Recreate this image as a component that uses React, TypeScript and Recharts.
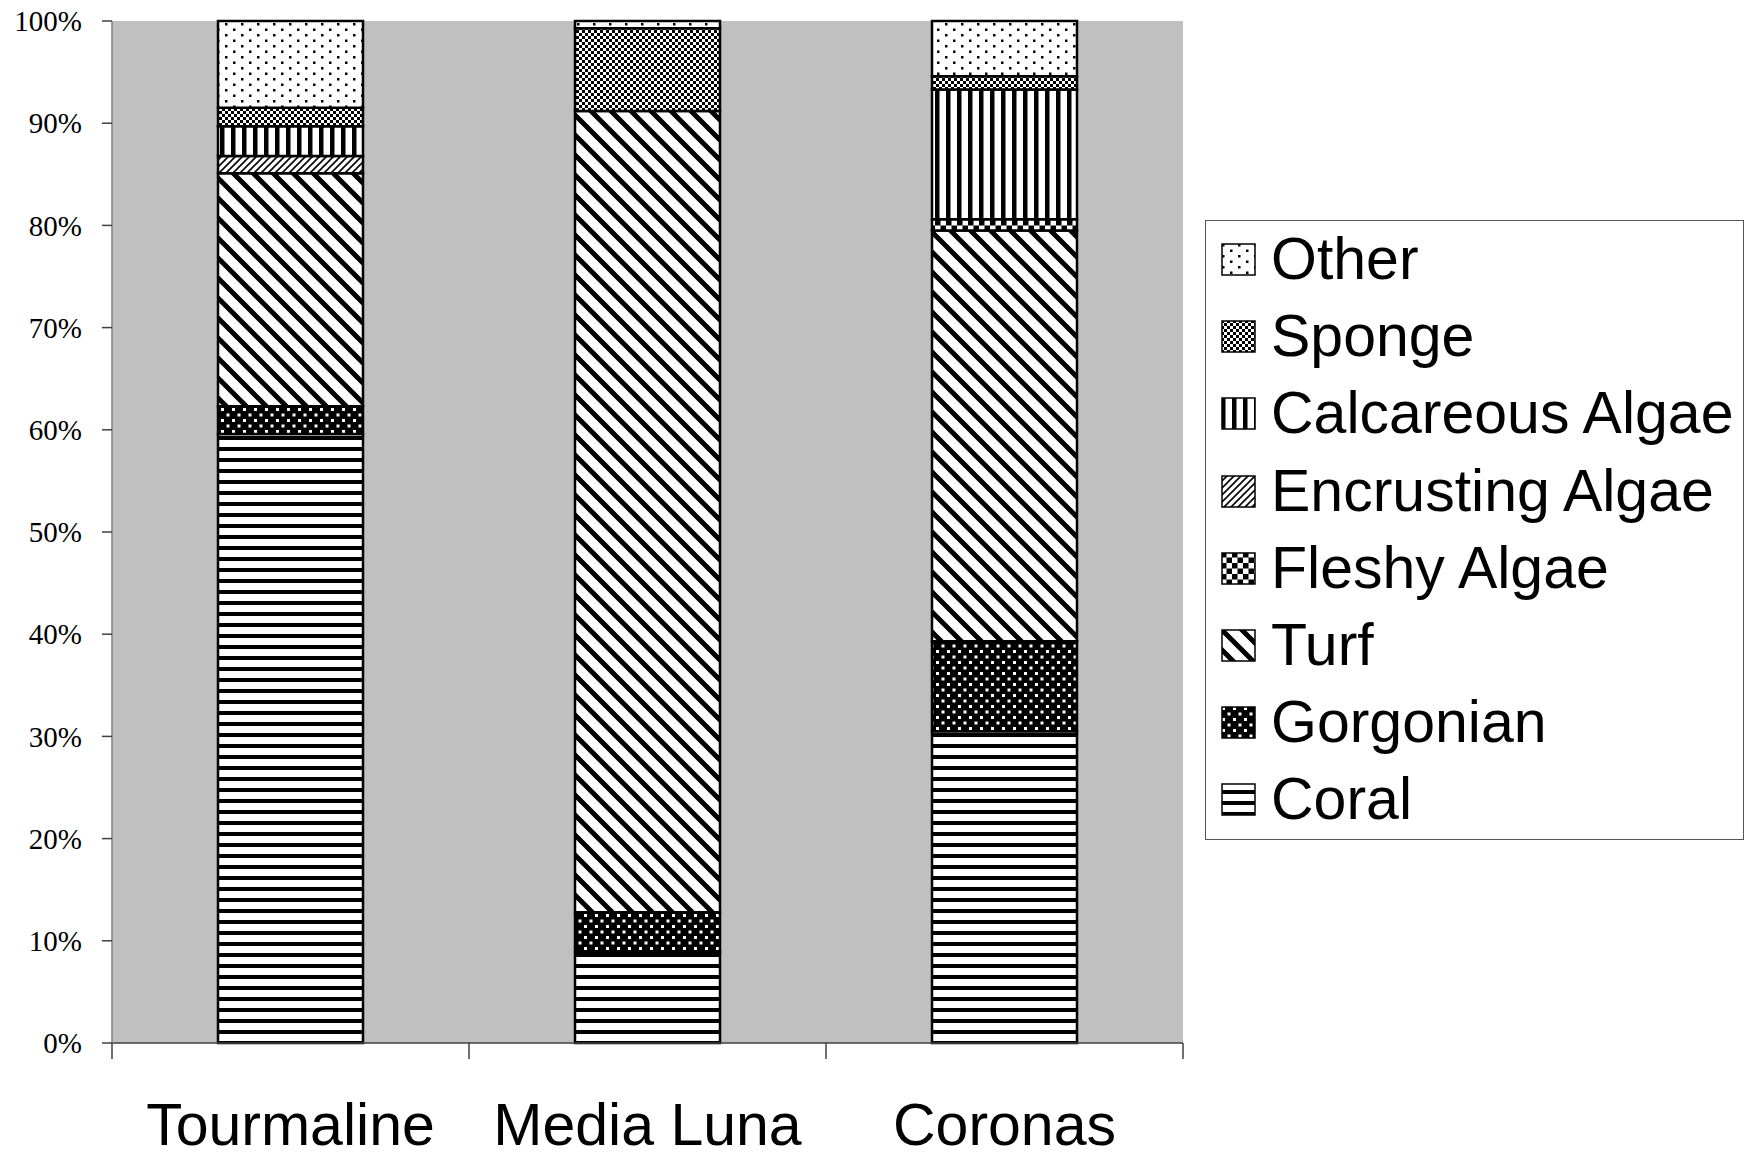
import { Bar, BarChart, CartesianGrid, Legend, XAxis, YAxis } from 'recharts'

const SITES = ['Tourmaline', 'Media Luna', 'Coronas']

const CORAL = [59.6, 8.9, 30.5]
const GORGONIAN = [2.7, 3.9, 8.8]
const TURF = [22.8, 78.4, 40.2]
const FLESHY_ALGAE = [0, 0, 1.1]
const ENCRUSTING_ALGAE = [1.7, 0, 0]
const CALCAREOUS_ALGAE = [2.9, 0, 12.7]
const SPONGE = [1.8, 8.1, 1.3]
const OTHER = [8.5, 0.7, 5.4]

const Y_TICKS = [0, 0.1, 0.2, 0.3, 0.4, 0.5, 0.6, 0.7, 0.8, 0.9, 1]

const SERIES = [
  { key: 'coral', name: 'Coral', values: CORAL, pattern: 'pat-coral' },
  { key: 'gorgonian', name: 'Gorgonian', values: GORGONIAN, pattern: 'pat-gorgonian' },
  { key: 'turf', name: 'Turf', values: TURF, pattern: 'pat-turf' },
  { key: 'fleshy', name: 'Fleshy Algae', values: FLESHY_ALGAE, pattern: 'pat-fleshy' },
  { key: 'encrusting', name: 'Encrusting Algae', values: ENCRUSTING_ALGAE, pattern: 'pat-encrusting' },
  { key: 'calcareous', name: 'Calcareous Algae', values: CALCAREOUS_ALGAE, pattern: 'pat-calcareous' },
  { key: 'sponge', name: 'Sponge', values: SPONGE, pattern: 'pat-sponge' },
  { key: 'other', name: 'Other', values: OTHER, pattern: 'pat-other' },
]

const data = SITES.map((site, i) => {
  const row: Record<string, string | number> = { site }
  SERIES.forEach((s) => {
    row[s.key] = s.values[i]
  })
  return row
})

const SANS = '"Liberation Sans", Arial, sans-serif'
const SERIF = '"Liberation Serif", "Times New Roman", serif'

function Patterns() {
  return (
    <defs>
      <pattern id="pat-coral" patternUnits="userSpaceOnUse" width="11" height="11">
        <rect width="11" height="11" fill="#fff" />
        <rect y="7" width="11" height="4" fill="#000" />
      </pattern>
      <pattern id="pat-gorgonian" patternUnits="userSpaceOnUse" width="11" height="11">
        <rect width="11" height="11" fill="#000" />
        <rect x="1" y="1" width="3" height="3" fill="#fff" />
        <rect x="6.5" y="6.5" width="3" height="3" fill="#fff" />
      </pattern>
      <pattern id="pat-turf" patternUnits="userSpaceOnUse" width="20" height="20">
        <rect width="20" height="20" fill="#fff" />
        <path d="M0,0 L20,20 M-5,15 L5,25 M15,-5 L25,5" stroke="#000" strokeWidth="5" />
      </pattern>
      <pattern id="pat-fleshy" patternUnits="userSpaceOnUse" width="11" height="11">
        <rect width="11" height="11" fill="#fff" />
        <rect width="5.5" height="5.5" fill="#000" />
        <rect x="5.5" y="5.5" width="5.5" height="5.5" fill="#000" />
      </pattern>
      <pattern id="pat-encrusting" patternUnits="userSpaceOnUse" width="7" height="7">
        <rect width="7" height="7" fill="#fff" />
        <path d="M0,7 L7,0 M-2,2 L2,-2 M5,9 L9,5" stroke="#000" strokeWidth="1.6" />
      </pattern>
      <pattern id="pat-calcareous" patternUnits="userSpaceOnUse" width="11" height="11">
        <rect width="11" height="11" fill="#fff" />
        <rect width="4.5" height="11" fill="#000" />
      </pattern>
      <pattern id="pat-sponge" patternUnits="userSpaceOnUse" width="6" height="6">
        <rect width="6" height="6" fill="#fff" />
        <rect width="3" height="3" fill="#000" />
        <rect x="3" y="3" width="3" height="3" fill="#000" />
      </pattern>
      <pattern id="pat-other" patternUnits="userSpaceOnUse" width="16" height="11">
        <rect width="16" height="11" fill="#fff" />
        <rect x="1" y="1" width="2.5" height="2.5" fill="#000" />
        <rect x="9" y="6.5" width="2.5" height="2.5" fill="#000" />
      </pattern>
    </defs>
  )
}

// category label plus the divider ticks at the band edges
function SiteTick(props: any) {
  const { x, y, payload, index, visibleTicksCount } = props
  const half = payload?.offset ?? 0
  const isLast = index === visibleTicksCount - 1
  return (
    <g>
      <line x1={x - half} x2={x - half} y1={y} y2={y + 16} stroke="#404040" strokeWidth={1.5} />
      {isLast && <line x1={x + half} x2={x + half} y1={y} y2={y + 16} stroke="#404040" strokeWidth={1.5} />}
      <text x={x} y={y + 60} dy="0.71em" textAnchor="middle" fontFamily={SANS} fontSize={59} fill="#000">
        {payload.value}
      </text>
    </g>
  )
}

function PatternLegend({ payload }: { payload?: any[] }) {
  const order = SERIES.map((s) => s.name).reverse()
  const items = order
    .map((name) => (payload ?? []).find((p) => p.value === name))
    .filter(Boolean)
  return (
    <div
      style={{
        boxSizing: 'border-box',
        width: 539,
        height: 620,
        border: '1.5px solid #555',
        background: '#fff',
        paddingLeft: 15,
      }}
    >
      {items.map((item: any) => (
        <div key={item.value} style={{ display: 'flex', alignItems: 'center', height: 77.2 }}>
          <svg width={35} height={33}>
            <rect
              x={1}
              y={1}
              width={33}
              height={31}
              fill={item.color ?? item.payload?.fill}
              stroke="#000"
              strokeWidth={1.5}
            />
          </svg>
          <span style={{ marginLeft: 15, fontFamily: SANS, fontSize: 59, lineHeight: 1, color: '#000' }}>
            {item.value}
          </span>
        </div>
      ))}
    </div>
  )
}

export default function App() {
  return (
    <div style={{ position: 'absolute', left: 0, top: 0, width: 1761, height: 1154, background: '#fff' }}>
      <BarChart
        width={1761}
        height={1154}
        data={data}
        stackOffset="expand"
        margin={{ top: 21, right: 578, bottom: 0, left: 0 }}
      >
        <Patterns />
        <CartesianGrid xAxisId="cat" yAxisId="pct" fill="#C0C0C0" horizontal={false} vertical={false} />
        <XAxis
          xAxisId="cat"
          dataKey="site"
          height={111}
          interval={0}
          axisLine={{ stroke: '#404040', strokeWidth: 1.5 }}
          tickLine={false}
          tickSize={0}
          tickMargin={0}
          tick={<SiteTick />}
        />
        <XAxis xAxisId="top" orientation="top" height={0} tick={false} tickLine={false} axisLine={{ stroke: '#808080', strokeWidth: 1.5 }} />
        <YAxis
          yAxisId="pct"
          width={112}
          domain={[0, 1]}
          ticks={Y_TICKS}
          tickFormatter={(v: number) => `${Math.round(v * 100)}%`}
          tickSize={10}
          tickMargin={20}
          axisLine={{ stroke: '#808080', strokeWidth: 1.5 }}
          tickLine={{ stroke: '#404040', strokeWidth: 1.5 }}
          tick={{ fontFamily: SERIF, fontSize: 29, fill: '#000' }}
        />
        <YAxis yAxisId="right" orientation="right" width={0} tick={false} tickLine={false} axisLine={{ stroke: '#808080', strokeWidth: 1.5 }} />
        {SERIES.map((s) => (
          <Bar
            key={s.key}
            dataKey={s.key}
            name={s.name}
            stackId="cover"
            xAxisId="cat"
            yAxisId="pct"
            barSize={145}
            fill={`url(#${s.pattern})`}
            stroke="#000"
            strokeWidth={2.5}
            isAnimationActive={false}
          />
        ))}
        <Legend
          layout="horizontal"
          align="center"
          verticalAlign="middle"
          wrapperStyle={{ left: 1205, top: 220, width: 539, height: 620 }}
          content={<PatternLegend />}
        />
      </BarChart>
    </div>
  )
}
